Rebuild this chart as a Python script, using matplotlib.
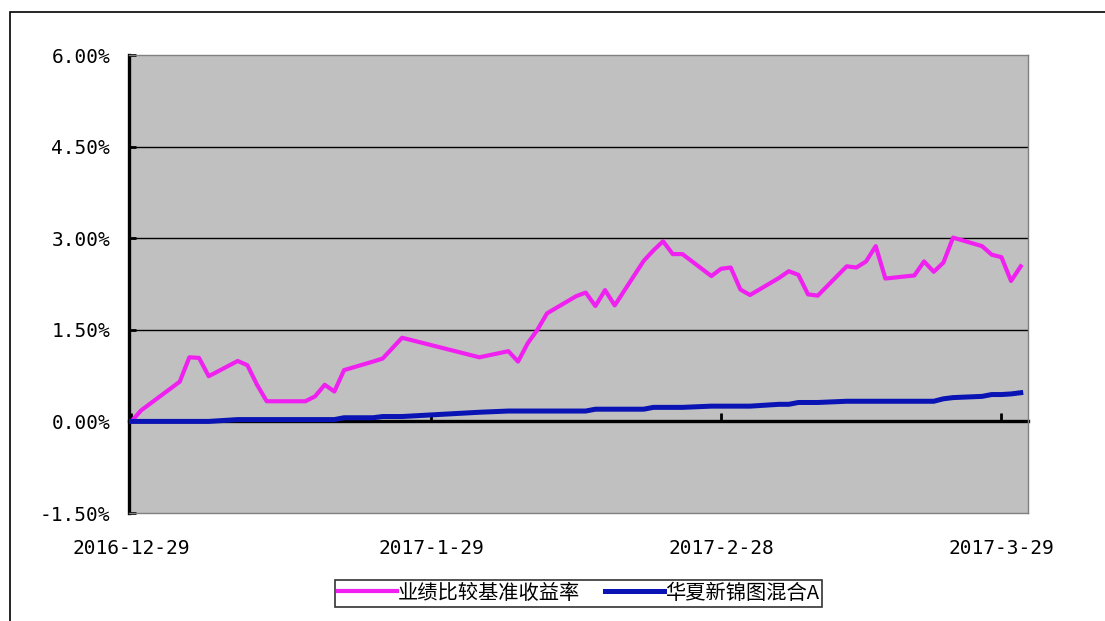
import matplotlib
matplotlib.use('Agg')
import matplotlib.pyplot as plt
from matplotlib.patches import Rectangle
from matplotlib.ticker import FuncFormatter
import pandas as pd

# Datos (rendimiento acumulado, %)
fechas = ['2016-12-29', '2016-12-30',
          '2017-01-03', '2017-01-04', '2017-01-05', '2017-01-06',
          '2017-01-09', '2017-01-10', '2017-01-11', '2017-01-12', '2017-01-13',
          '2017-01-16', '2017-01-17', '2017-01-18', '2017-01-19', '2017-01-20',
          '2017-01-23', '2017-01-24', '2017-01-25', '2017-01-26',
          '2017-02-03',
          '2017-02-06', '2017-02-07', '2017-02-08', '2017-02-09', '2017-02-10',
          '2017-02-13', '2017-02-14', '2017-02-15', '2017-02-16', '2017-02-17',
          '2017-02-20', '2017-02-21', '2017-02-22', '2017-02-23', '2017-02-24',
          '2017-02-27', '2017-02-28', '2017-03-01', '2017-03-02', '2017-03-03',
          '2017-03-06', '2017-03-07', '2017-03-08', '2017-03-09', '2017-03-10',
          '2017-03-13', '2017-03-14', '2017-03-15', '2017-03-16', '2017-03-17',
          '2017-03-20', '2017-03-21', '2017-03-22', '2017-03-23', '2017-03-24',
          '2017-03-27', '2017-03-28', '2017-03-29', '2017-03-30', '2017-03-31']

benchmark = [0.00, 0.18,
             0.65, 1.05, 1.04, 0.74,
             0.99, 0.92, 0.60, 0.33, 0.33,
             0.33, 0.41, 0.60, 0.49, 0.84,
             0.98, 1.03, 1.20, 1.37,
             1.05,
             1.15, 0.98, 1.28, 1.50, 1.77,
             2.05, 2.11, 1.89, 2.15, 1.90,
             2.63, 2.80, 2.95, 2.74, 2.74,
             2.38, 2.50, 2.52, 2.16, 2.07,
             2.35, 2.46, 2.40, 2.08, 2.06,
             2.54, 2.52, 2.62, 2.87, 2.34,
             2.39, 2.62, 2.45, 2.60, 3.01,
             2.87, 2.73, 2.69, 2.30, 2.54]

fondo = [0.00, 0.00,
         0.00, 0.00, 0.00, 0.00,
         0.03, 0.03, 0.03, 0.03, 0.03,
         0.03, 0.03, 0.03, 0.03, 0.06,
         0.06, 0.08, 0.08, 0.08,
         0.15,
         0.17, 0.17, 0.17, 0.17, 0.17,
         0.17, 0.17, 0.20, 0.20, 0.20,
         0.20, 0.23, 0.23, 0.23, 0.23,
         0.25, 0.25, 0.25, 0.25, 0.25,
         0.28, 0.28, 0.31, 0.31, 0.31,
         0.33, 0.33, 0.33, 0.33, 0.33,
         0.33, 0.33, 0.33, 0.37, 0.39,
         0.41, 0.44, 0.44, 0.45, 0.47]

etiquetas = ['业绩比较基准收益率', '华夏新锦图混合A']
fechas_eje = ['2016-12-29', '2017-01-29', '2017-02-28', '2017-03-29']
textos_eje = ['2016-12-29', '2017-1-29', '2017-2-28', '2017-3-29']
y_ticks = [-1.5, 0, 1.5, 3.0, 4.5, 6.0]

x = pd.to_datetime(fechas)
xt = pd.to_datetime(fechas_eje)

fig = plt.figure(figsize=(11.05, 6.21), dpi=100)
ax = fig.add_axes([0.1167, 0.1739, 0.8136, 0.7375])
ax.set_facecolor('#C0C0C0')

# Marco exterior
fig.patches.append(Rectangle((10 / 1105, -0.1), 1.2, 1 - 12 / 621 + 0.1,
                             transform=fig.transFigure, fill=False,
                             edgecolor='black', linewidth=1.2))

mono = 'DejaVu Sans Mono'

# Líneas de la cuadrícula
for v in [1.5, 3.0, 4.5]:
    ax.axhline(v, color='black', linewidth=1.0, zorder=1)

ax.plot(x, benchmark, color='#F020F0', linewidth=3.0, label=etiquetas[0], zorder=3)
ax.plot(x, fondo, color='#0A14B4', linewidth=3.6, label=etiquetas[1], zorder=4)

ax.set_ylim(-1.5, 6.0)
ax.set_xlim(pd.Timestamp('2016-12-29') - pd.Timedelta(hours=6),
            pd.Timestamp('2017-04-01') - pd.Timedelta(hours=6))

ax.set_yticks(y_ticks)
ax.yaxis.set_major_formatter(FuncFormatter(lambda v, p: '%.2f%%' % v))
ax.tick_params(axis='y', direction='in', length=5, width=2, color='black',
               pad=13.5, labelsize=14)
for lbl in ax.get_yticklabels():
    lbl.set_family(mono)

ax.set_xticks(xt)
ax.set_xticklabels(textos_eje, family=mono, fontsize=14)
ax.tick_params(axis='x', length=0, pad=19)

for s in ['top', 'right', 'bottom']:
    ax.spines[s].set_color('#808080')
    ax.spines[s].set_linewidth(1.0)
ax.spines['left'].set_color('black')
ax.spines['left'].set_linewidth(2.4)

# Eje horizontal en cero
sec = ax.secondary_xaxis(0.2)
sec.set_xticks(xt)
sec.tick_params(axis='x', direction='in', length=6, width=2, color='black',
                labelbottom=False)
sec.spines['bottom'].set_color('black')
sec.spines['bottom'].set_linewidth(2.4)

leg = fig.legend(loc='center', bbox_to_anchor=(0.5235, 0.045), ncol=2,
                 prop={'family': ['Noto Sans CJK SC', 'DejaVu Sans'], 'size': 14.6},
                 frameon=True, fancybox=False, edgecolor='black',
                 handlelength=2.9, handletextpad=0.05, columnspacing=1.25,
                 borderpad=0.15, borderaxespad=0)
leg.get_frame().set_linewidth(1.2)

fig.savefig('out.png', dpi=100)
